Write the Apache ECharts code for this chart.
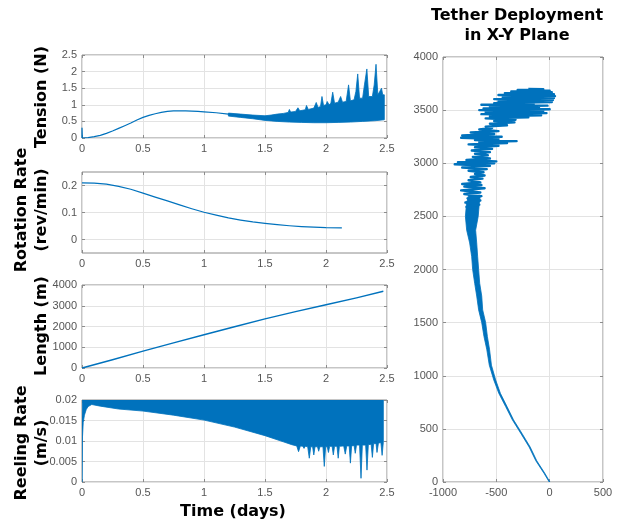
<!DOCTYPE html>
<html><head><meta charset="utf-8">
<script src="https://cdn.jsdelivr.net/npm/echarts@6/dist/echarts.min.js"></script>
<style>html,body{margin:0;padding:0;background:#fff}#c{width:618px;height:525px}</style>
</head><body><div id="c"></div>
<script>
// ---- Tension (N) ----
const tensT = [0, 0, 0.003, 0.05, 0.1, 0.15, 0.2, 0.25, 0.3, 0.35, 0.4, 0.45, 0.5, 0.55, 0.6, 0.65, 0.7, 0.75, 0.8, 0.85, 0.9, 0.95, 1.0, 1.1, 1.2, 1.3];
const tensV = [0, 0.3, 0, 0.01, 0.04, 0.08, 0.14, 0.21, 0.29, 0.37, 0.45, 0.54, 0.62, 0.68, 0.73, 0.77, 0.8, 0.815, 0.82, 0.82, 0.81, 0.8, 0.785, 0.76, 0.72, 0.68];
const tensUpT = [1.2,1.3,1.4,1.5,1.55,1.6,1.65,1.69,1.70,1.71,1.75,1.77,1.785,1.83,1.84,1.855,1.9,1.92,1.935,1.955,1.967,1.98,2.0,2.01,2.025,2.04,2.055,2.07,2.1,2.12,2.135,2.165,2.185,2.2,2.23,2.245,2.26,2.275,2.3,2.315,2.335,2.35,2.38,2.395,2.41,2.425,2.44,2.455,2.465,2.478];
const tensUpV = [0.75,0.72,0.69,0.67,0.69,0.72,0.74,0.77,0.86,0.78,0.80,0.91,0.82,0.85,0.98,0.86,0.90,1.07,0.92,0.95,1.25,0.98,1.00,1.10,1.00,1.05,1.38,1.05,1.08,1.25,1.08,1.10,1.60,1.12,1.15,1.40,1.93,1.20,1.20,1.60,2.08,1.25,1.25,1.60,2.22,1.30,1.40,1.50,1.30,1.30];
const tensLowT = [1.2, 1.3, 1.4, 1.5, 1.6, 1.7, 1.8, 1.9, 2.0, 2.1, 2.2, 2.3, 2.4, 2.478];
const tensLowV = [0.66, 0.62, 0.58, 0.53, 0.5, 0.48, 0.47, 0.46, 0.46, 0.47, 0.48, 0.5, 0.52, 0.55];

// ---- Rotation Rate (rev/min) ----
const rotT = [0, 0.1, 0.2, 0.3, 0.4, 0.5, 0.6, 0.7, 0.8, 0.9, 1.0, 1.1, 1.2, 1.3, 1.4, 1.5, 1.6, 1.7, 1.8, 1.9, 2.0, 2.13];
const rotV = [0.21, 0.209, 0.205, 0.197, 0.186, 0.172, 0.157, 0.143, 0.128, 0.114, 0.101, 0.09, 0.08, 0.072, 0.065, 0.06, 0.055, 0.051, 0.048, 0.046, 0.044, 0.043];

// ---- Length (m) ----
const lenT = [0, 0.25, 0.5, 0.75, 1.0, 1.25, 1.5, 1.75, 2.0, 2.25, 2.47];
const lenV = [0, 400, 810, 1210, 1600, 1990, 2370, 2720, 3050, 3380, 3700];

// ---- Reeling Rate (m/s) ----
const reelUpT = [0, 0.005, 2.47];
const reelUpV = [0.016, 0.02, 0.02];
const reelLowT = [0,0.004,0.01,0.02,0.035,0.05,0.08,0.15,0.3,0.5,0.75,1.0,1.25,1.5,1.65,1.72,1.76,1.775,1.79,1.81,1.82,1.83,1.85,1.863,1.875,1.89,1.90,1.91,1.93,1.94,1.95,1.975,1.986,1.997,2.01,2.02,2.03,2.05,2.06,2.07,2.09,2.10,2.11,2.145,2.158,2.17,2.19,2.2,2.21,2.23,2.24,2.25,2.275,2.287,2.298,2.325,2.336,2.347,2.37,2.38,2.39,2.41,2.418,2.43,2.45,2.46,2.47];
const reelLowV = [0,0.011,0.0145,0.0163,0.0177,0.0184,0.0189,0.0185,0.0178,0.0173,0.0163,0.0151,0.0134,0.0113,0.0098,0.0091,0.0088,0.0074,0.0088,0.0087,0.0082,0.0087,0.0086,0.0058,0.0086,0.0086,0.0066,0.0086,0.0086,0.0075,0.0086,0.0086,0.0038,0.0086,0.0086,0.0072,0.0087,0.0087,0.0066,0.0087,0.0087,0.0058,0.0087,0.0088,0.0068,0.0088,0.0088,0.0046,0.0088,0.0089,0.007,0.009,0.009,0.0009,0.009,0.009,0.0029,0.0091,0.0092,0.006,0.0093,0.0094,0.0072,0.0095,0.0096,0.0065,0.0097];

// ---- Tether Deployment in X-Y Plane ----
const trunkY = [0, 80, 200, 330, 460, 585, 710, 835, 960, 1100, 1250, 1370, 1500, 1620, 1750, 1870, 2000, 2120, 2250, 2370, 2500, 2620, 2700];
const trunkL = [-4, -52, -130, -193, -272, -350, -413, -477, -524, -566, -590, -616, -637, -666, -684, -703, -722, -731, -750, -778, -790, -780, -760];
const trunkR = [2, -44, -121, -183, -261, -339, -400, -462, -506, -546, -564, -584, -600, -628, -637, -656, -666, -675, -684, -694, -670, -660, -650];
const scribX = [-720,-780,-660,-790,-650,-770,-640,-800,-650,-830,-610,-800,-640,-820,-650,-760,-630,-740,-610,-700,-620,-760,-590,-820,-560,-890,-520,-860,-500,-780,-560,-720,-580,-700,-560,-730,-540,-700,-480,-760,-400,-660,-310,-700,-480,-830,-450,-820,-520,-740,-480,-660,-540,-600,-400,-560,-330,-520,-320,-600,-200,-560,-80,-640,-30,-600,-60,-660,0,-620,-100,-560,-20,-640,-150,-520,20,-480,30,-520,40,-440,50,-480,40,-420,20,-360,0,-300,-60,-200];
const scribY = [2560,2590,2610,2630,2650,2670,2690,2710,2725,2745,2765,2780,2795,2805,2820,2840,2855,2870,2885,2900,2915,2930,2945,2960,2975,2990,3000,3010,3018,3030,3045,3060,3075,3090,3105,3120,3135,3150,3165,3178,3190,3200,3208,3218,3228,3240,3250,3262,3275,3290,3302,3318,3332,3345,3358,3372,3385,3398,3410,3422,3432,3442,3452,3462,3472,3482,3492,3500,3508,3516,3524,3532,3542,3550,3558,3566,3576,3584,3594,3604,3614,3622,3632,3642,3650,3660,3668,3676,3684,3690,3697,3700];

const C = '#0072BD', AX = '#8c8c8c', LBL = '#555555', GC = '#e3e3e3';
const LF = '"Liberation Sans", Arial, sans-serif';
const BF = '"DejaVu Sans", sans-serif';

const gridPos = [
  {left: 82, top: 55, width: 305, height: 83},
  {left: 82, top: 172, width: 305, height: 81},
  {left: 82, top: 285, width: 305, height: 83},
  {left: 82, top: 400, width: 305, height: 82},
  {left: 443, top: 57, width: 160, height: 425}
];
const grids = gridPos.map(g => Object.assign({show: true, borderColor: AX, borderWidth: 1, backgroundColor: 'transparent'}, g));

const xSpec = [
  {min: 0, max: 2.5, interval: 0.5}, {min: 0, max: 2.5, interval: 0.5},
  {min: 0, max: 2.5, interval: 0.5}, {min: 0, max: 2.5, interval: 0.5},
  {min: -1000, max: 500, interval: 500}
];
const ySpec = [
  {min: 0, max: 2.5, interval: 0.5},
  {min: -0.05, max: 0.25, custom: [0, 0.1, 0.2]},
  {min: 0, max: 4000, interval: 1000},
  {min: 0, max: 0.02, interval: 0.005},
  {min: 0, max: 4000, interval: 500}
];
const fmt = v => String(+(+v).toPrecision(10));

function mkAxis(spec, i, pos, mirror) {
  const a = {
    type: 'value', gridIndex: i, position: pos, min: spec.min, max: spec.max,
    axisLine: {show: false, onZero: false},
    axisTick: {show: true, inside: true, length: 3, lineStyle: {color: AX}},
    axisLabel: {show: !mirror, color: LBL, fontSize: 11, fontFamily: LF, margin: 5, formatter: fmt},
    splitLine: {show: !mirror, lineStyle: {color: GC, width: 1}}
  };
  if (spec.interval) a.interval = spec.interval;
  if (spec.custom) {
    a.axisLabel.customValues = spec.custom;
    a.axisTick.customValues = spec.custom;
  }
  return a;
}
const xAxes = [], yAxes = [];
for (let i = 0; i < 5; i++) {
  xAxes.push(mkAxis(xSpec[i], i, 'bottom', false));
  yAxes.push(mkAxis(ySpec[i], i, 'left', false));
}
for (let i = 0; i < 5; i++) {
  xAxes.push(mkAxis(xSpec[i], i, 'top', true));
  yAxes.push(mkAxis(ySpec[i], i, 'right', true));
}

function zip(a, b) { return a.map((v, i) => [v, b[i]]); }
function lineS(i, data, w) {
  return {type: 'line', xAxisIndex: i, yAxisIndex: i, data: data, showSymbol: false, symbol: 'none',
    lineStyle: {color: C, width: w || 1, join: 'round'}, itemStyle: {color: C}, silent: true, clip: true, animation: false};
}
function polyS(i, pts) {
  return {type: 'custom', xAxisIndex: i, yAxisIndex: i, clip: true, silent: true, animation: false,
    data: [pts[0]],
    renderItem: function (params, api) {
      return {type: 'polygon', shape: {points: pts.map(p => api.coord(p))},
        style: {fill: C, stroke: C, lineWidth: 0.8}};
    }};
}

const tensBand = zip(tensUpT, tensUpV).concat(zip(tensLowT, tensLowV).reverse());
const reelBand = zip(reelUpT, reelUpV).concat(zip(reelLowT, reelLowV).reverse());
const trunk = zip(trunkL, trunkY).concat(zip(trunkR, trunkY).reverse());

const series = [
  lineS(0, zip(tensT, tensV), 1.2),
  polyS(0, tensBand),
  lineS(1, zip(rotT, rotV), 1.2),
  lineS(2, zip(lenT, lenV), 1.4),
  polyS(3, reelBand),
  polyS(4, trunk),
  lineS(4, zip(scribX, scribY), 2.4)
];

const boldText = (txt, x, y, rot, size) => ({
  type: 'text', x: x, y: y, rotation: rot, silent: true,
  style: {text: txt, fill: '#000', font: 'bold ' + size + 'px ' + BF, lineHeight: 20,
    align: 'center', verticalAlign: 'middle', textAlign: 'center', textVerticalAlign: 'middle'}
});

const chart = echarts.init(document.getElementById('c'), null, {renderer: 'canvas'});
chart.setOption({
  animation: false,
  backgroundColor: '#ffffff',
  grid: grids,
  xAxis: xAxes,
  yAxis: yAxes,
  series: series,
  graphic: [
    boldText('Tension (N)', 42, 97, Math.PI / 2, 16),
    boldText('Rotation Rate\n(rev/min)', 32, 210, Math.PI / 2, 16),
    boldText('Length (m)', 42, 326, Math.PI / 2, 16),
    boldText('Reeling Rate\n(m/s)', 32, 443, Math.PI / 2, 16),
    boldText('Time (days)', 233, 512, 0, 16),
    boldText('Tether Deployment\nin X-Y Plane', 517, 26, 0, 16)
  ]
});
</script>
</body></html>
